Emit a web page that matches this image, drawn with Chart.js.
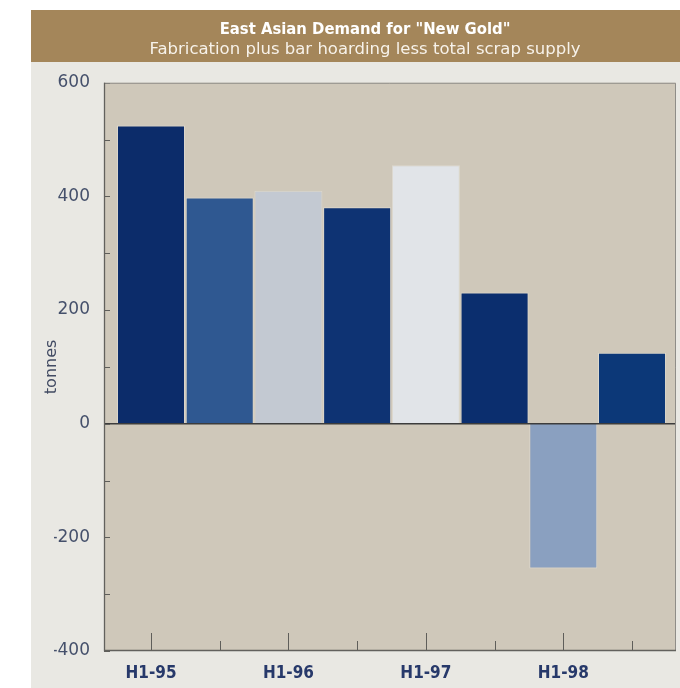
<!DOCTYPE html>
<html><head><meta charset="utf-8">
<script src="https://cdn.jsdelivr.net/npm/chart.js@4/dist/chart.umd.min.js"></script>
<style>html,body{margin:0;padding:0;background:#fff;}canvas{display:block;}</style>
</head><body>
<canvas id="c" width="680" height="688"></canvas>
<script>
const categories = ['H1-95','H2-95','H1-96','H2-96','H1-97','H2-97','H1-98','H2-98'];
const demandTonnes = [525, 398, 410, 381, 455, 231, -255, 125];
const tickLabels = ['H1-95','','H1-96','','H1-97','','H1-98',''];
const yTicks = [-400, -200, 0, 200, 400, 600];
const yTickMarks = [-400, -300, -200, -100, 0, 100, 200, 300, 400, 500, 600];
const barColors = ['#0c2c6a','#2f5891','#c3c9d2','#0e3373','#e1e4e8','#0b2e6e','#8aa0c0','#0c3878'];
const chartTitle = 'East Asian Demand for "New Gold"';
const chartSubtitle = 'Fabrication plus bar hoarding less total scrap supply';
const yAxisLabel = 'tonnes';

const frame = {
  id: 'frame',
  beforeDraw(chart) {
    const {ctx, chartArea: a, width, height} = chart;
    ctx.save();
    ctx.fillStyle = '#ffffff'; ctx.fillRect(0, 0, width, height);
    ctx.fillStyle = '#e9e8e3'; ctx.fillRect(31, 62, width - 31, height - 62);
    ctx.fillStyle = '#a4865a'; ctx.fillRect(31, 10, width - 31, 52);
    ctx.fillStyle = '#cfc8ba'; ctx.fillRect(a.left, a.top, a.right - a.left, a.bottom - a.top);
    ctx.restore();
  },
  afterDatasetsDraw(chart) {
    const {ctx, chartArea: a, scales: {x, y}} = chart;
    ctx.save();
    const y0 = y.getPixelForValue(0);
    ctx.strokeStyle = '#3c3c3c'; ctx.lineWidth = 1.4;
    ctx.beginPath(); ctx.moveTo(a.left, y0); ctx.lineTo(a.right, y0); ctx.stroke();
    ctx.strokeStyle = '#5f5e5a'; ctx.lineWidth = 1;
    yTickMarks.forEach(v => {
      const py = Math.round(y.getPixelForValue(v)) + 0.5;
      ctx.beginPath(); ctx.moveTo(a.left, py); ctx.lineTo(a.left + 6, py); ctx.stroke();
    });
    categories.forEach((c, i) => {
      const px = Math.round(x.getPixelForValue(i)) + 0.5;
      const len = tickLabels[i] ? 18 : 10;
      ctx.beginPath(); ctx.moveTo(px, a.bottom); ctx.lineTo(px, a.bottom - len); ctx.stroke();
    });
    ctx.strokeStyle = '#8f8d88'; ctx.lineWidth = 1;
    ctx.beginPath(); ctx.moveTo(a.left, a.top + 0.5); ctx.lineTo(a.right - 0.5, a.top + 0.5); ctx.lineTo(a.right - 0.5, a.bottom); ctx.stroke();
    ctx.strokeStyle = '#62615d'; ctx.lineWidth = 1.3;
    ctx.beginPath(); ctx.moveTo(a.left + 0.5, a.top); ctx.lineTo(a.left + 0.5, a.bottom - 0.5); ctx.lineTo(a.right, a.bottom - 0.5); ctx.stroke();
    ctx.restore();
  }
};

new Chart(document.getElementById('c'), {
  type: 'bar',
  data: {
    datasets: [{
      label: 'tonnes',
      data: demandTonnes.map((v, i) => ({x: i, y: v})),
      backgroundColor: barColors,
      borderColor: 'rgba(232,228,218,0.6)',
      borderWidth: 1,
      barPercentage: 0.99,
      categoryPercentage: 1
    }]
  },
  options: {
    responsive: false,
    animation: false,
    devicePixelRatio: 1,
    layout: {padding: {left: 54, right: 4, top: 0, bottom: 6}},
    plugins: {
      legend: {display: false},
      tooltip: {enabled: false},
      title: {
        display: true, text: chartTitle, color: '#ffffff',
        font: {family: "'DejaVu Sans Condensed', 'DejaVu Sans', sans-serif", size: 16.5, weight: 'bold', lineHeight: 1.2},
        padding: {top: 20, bottom: 0}
      },
      subtitle: {
        display: true, text: chartSubtitle, color: '#f7f2ea',
        font: {family: "'DejaVu Sans', sans-serif", size: 16.5, weight: 'normal', lineHeight: 1.15},
        padding: {top: 0, bottom: 24}
      }
    },
    scales: {
      x: {
        type: 'linear', min: -0.684, max: 7.64, offset: false,
        afterBuildTicks: s => { s.ticks = categories.map((c, i) => ({value: i})); },
        afterFit: s => { s.height = 31; },
        grid: {display: false, drawTicks: false, offset: false},
        border: {display: false},
        ticks: {
          autoSkip: false, maxRotation: 0, padding: 12, color: '#27396a',
          font: {family: "'DejaVu Sans Condensed', 'DejaVu Sans', sans-serif", size: 17, weight: 'bold', lineHeight: 1.2},
          callback: v => tickLabels[v] || ''
        }
      },
      y: {
        min: -400, max: 600,
        afterBuildTicks: s => { s.ticks = yTicks.map(v => ({value: v})); },
        afterFit: s => { s.width = 50; },
        grid: {display: false, drawTicks: false},
        border: {display: false},
        ticks: {
          padding: 14, color: '#45506b',
          font: {family: "'DejaVu Sans', sans-serif", size: 17, lineHeight: 1.2}
        },
        title: {
          display: true, text: yAxisLabel, color: '#424b63',
          font: {family: "'DejaVu Sans', sans-serif", size: 16, lineHeight: 1.2},
          padding: {top: -11.6, bottom: 0}
        }
      }
    }
  },
  plugins: [frame]
});
</script>
</body></html>
